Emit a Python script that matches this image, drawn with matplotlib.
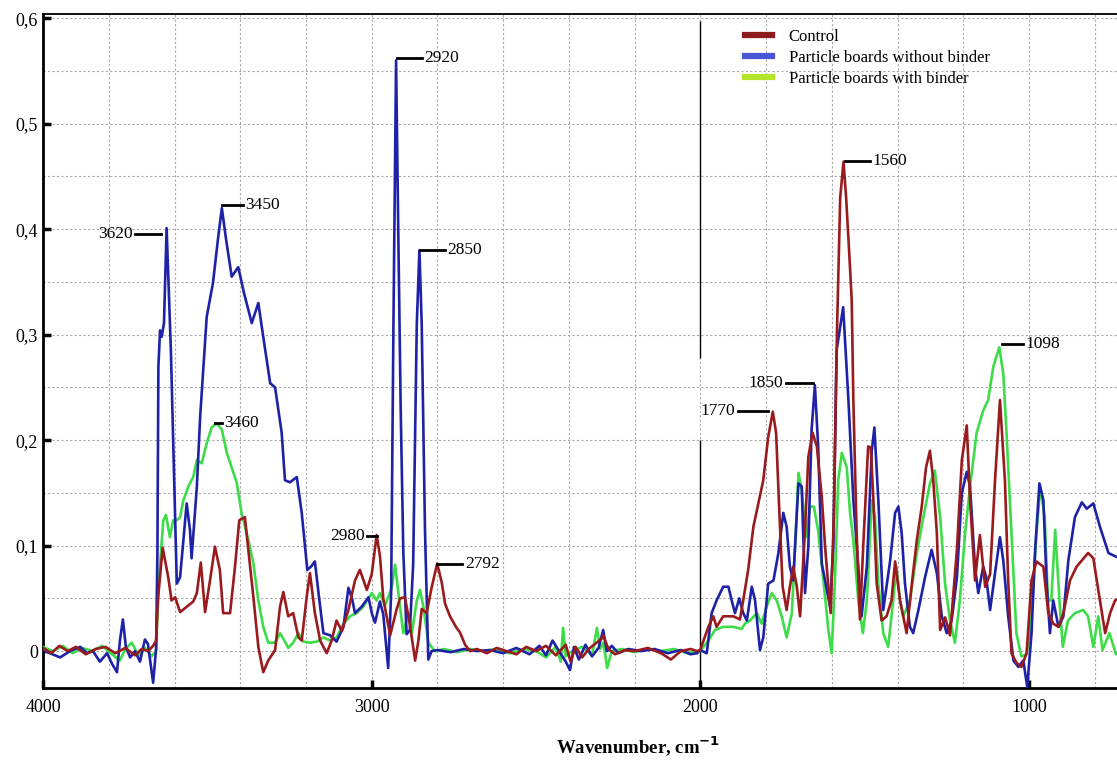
import matplotlib
matplotlib.use("Agg")
import matplotlib.pyplot as plt
from matplotlib.lines import Line2D
from matplotlib.ticker import MultipleLocator, FixedLocator, FuncFormatter

plt.rcParams['font.family'] = ['Liberation Serif', 'DejaVu Serif']

# FTIR spectra: wavenumber (cm-1) and absorbance
control_wn = [4000, 3975, 3950, 3925, 3900, 3870, 3840, 3810, 3780, 3750, 3720, 3700, 3680, 3665, 3656,
              3650, 3636, 3619, 3609, 3598, 3583, 3563, 3543, 3532, 3520, 3507, 3492, 3477, 3462, 3452,
              3431, 3416, 3403, 3386, 3360, 3345, 3330, 3315, 3294, 3279, 3269, 3254, 3239, 3223, 3213,
              3198, 3188, 3173, 3157, 3137, 3122, 3107, 3091, 3071, 3051, 3036, 3015, 3000, 2985, 2975,
              2965, 2944, 2924, 2914, 2899, 2884, 2868, 2858, 2848, 2833, 2818, 2801, 2787, 2777, 2762,
              2742, 2732, 2716, 2701, 2680, 2650, 2620, 2590, 2560, 2530, 2500, 2470, 2440, 2410, 2395,
              2380, 2360, 2340, 2300, 2296, 2280, 2260, 2230, 2200, 2160, 2120, 2090, 2060, 2030, 2010,
              2001, 1976, 1961, 1951, 1931, 1900, 1880, 1870, 1855, 1839, 1824, 1809, 1794, 1780, 1770,
              1760, 1750, 1738, 1728, 1718, 1707, 1697, 1682, 1672, 1659, 1646, 1631, 1621, 1611, 1604,
              1594, 1585, 1575, 1565, 1557, 1548, 1540, 1535, 1525, 1515, 1505, 1490, 1482, 1474, 1464,
              1449, 1434, 1419, 1408, 1393, 1373, 1357, 1342, 1327, 1314, 1302, 1292, 1281, 1271, 1256,
              1241, 1220, 1205, 1190, 1180, 1165, 1150, 1134, 1119, 1104, 1089, 1074, 1064, 1054, 1039,
              1024, 1008, 993, 978, 957, 942, 927, 911, 896, 876, 856, 821, 805, 790, 769, 754, 739, 724]
control_abs = [0.003, -0.002, 0.005, 0.0, 0.004, -0.003, 0.002, 0.004, -0.002, 0.003, -0.004, 0.002, 0.0, 0.005, 0.01,
               0.05, 0.098, 0.07, 0.048, 0.051, 0.037, 0.042, 0.047, 0.055, 0.084, 0.037, 0.067, 0.099, 0.077, 0.036,
               0.036, 0.08, 0.124, 0.127, 0.051, 0.004, -0.02, -0.009, 0.001, 0.042, 0.056, 0.033, 0.036, 0.013, 0.01,
               0.051, 0.074, 0.036, 0.01, -0.002, 0.01, 0.029, 0.019, 0.039, 0.067, 0.077, 0.058, 0.073, 0.11, 0.09,
               0.05, 0.015, 0.04, 0.05, 0.051, 0.025, -0.009, 0.01, 0.04, 0.036, 0.06, 0.083, 0.065, 0.045, 0.033,
               0.022, 0.018, 0.006, 0.0, 0.002, -0.002, 0.003, 0.0, -0.003, 0.004, 0.0, 0.005, -0.004, 0.006, -0.01,
               0.004, -0.006, 0.002, 0.012, 0.015, 0.002, -0.003, 0.001, 0.0, 0.003, -0.002, -0.008, 0.0, 0.002, 0.0,
               0.001, 0.023, 0.033, 0.023, 0.033, 0.033, 0.03, 0.048, 0.077, 0.118, 0.14, 0.162, 0.203, 0.227, 0.207,
               0.131, 0.061, 0.039, 0.061, 0.08, 0.061, 0.033, 0.115, 0.184, 0.207, 0.194, 0.146, 0.099, 0.061, 0.036,
               0.131, 0.3, 0.43, 0.464, 0.43, 0.38, 0.333, 0.238, 0.112, 0.03, 0.099, 0.194, 0.193, 0.143, 0.064,
               0.029, 0.033, 0.048, 0.085, 0.048, 0.017, 0.064, 0.105, 0.137, 0.174, 0.19, 0.162, 0.112, 0.02, 0.032,
               0.015, 0.096, 0.181, 0.214, 0.143, 0.067, 0.11, 0.061, 0.073, 0.162, 0.238, 0.162, 0.067, -0.002, -0.011,
               -0.015, -0.002, 0.067, 0.085, 0.08, 0.036, 0.026, 0.023, 0.036, 0.067, 0.08, 0.093, 0.088, 0.058, 0.017, 0.036, 0.048, 0.05]

nobinder_wn = [4000, 3979, 3948, 3918, 3887, 3866, 3848, 3827, 3805, 3790, 3775, 3766, 3757, 3748, 3735,
               3720, 3705, 3690, 3681, 3665, 3656, 3652, 3649, 3644, 3639, 3632, 3624, 3616, 3611, 3593,
               3583, 3563, 3553, 3548, 3532, 3522, 3502, 3483, 3468, 3456, 3443, 3426, 3406, 3389, 3365,
               3345, 3331, 3309, 3294, 3274, 3264, 3249, 3228, 3213, 3196, 3185, 3173, 3160, 3147, 3127,
               3107, 3086, 3071, 3060, 3051, 3031, 3010, 2999, 2990, 2975, 2965, 2950, 2941, 2934, 2926,
               2919, 2912, 2904, 2894, 2884, 2874, 2863, 2855, 2848, 2838, 2828, 2818, 2800, 2760, 2720,
               2680, 2640, 2600, 2560, 2520, 2490, 2470, 2450, 2430, 2410, 2397, 2385, 2370, 2350, 2330,
               2310, 2296, 2285, 2270, 2250, 2220, 2180, 2140, 2100, 2060, 2030, 2010,
               2001, 1981, 1966, 1951, 1931, 1915, 1905, 1895, 1882, 1870, 1859, 1844, 1834, 1819, 1809,
               1794, 1778, 1763, 1748, 1738, 1728, 1718, 1702, 1692, 1682, 1672, 1662, 1652, 1642, 1631,
               1621, 1606, 1596, 1586, 1566, 1550, 1535, 1520, 1510, 1494, 1479, 1471, 1459, 1444, 1423,
               1408, 1398, 1388, 1378, 1363, 1353, 1337, 1317, 1297, 1281, 1266, 1251, 1236, 1220, 1205,
               1190, 1180, 1165, 1155, 1140, 1131, 1119, 1104, 1089, 1079, 1064, 1048, 1033, 1018, 1006,
               993, 982, 969, 957, 947, 937, 927, 911, 896, 881, 861, 840, 825, 805, 785, 759, 739, 724]
nobinder_abs = [0.001, -0.002, -0.006, 0.0, 0.004, -0.002, 0.0, -0.01, -0.002, -0.012, -0.02, 0.01, 0.03, 0.004, -0.006,
                0.0, -0.01, 0.011, 0.007, -0.03, 0.002, 0.093, 0.27, 0.304, 0.298, 0.311, 0.401, 0.33, 0.285, 0.064,
                0.07, 0.14, 0.115, 0.088, 0.156, 0.222, 0.317, 0.349, 0.39, 0.42, 0.39, 0.355, 0.364, 0.34, 0.311,
                0.33, 0.3, 0.254, 0.25, 0.207, 0.162, 0.16, 0.165, 0.131, 0.077, 0.08, 0.085, 0.05, 0.017, 0.015,
                0.009, 0.023, 0.06, 0.05, 0.036, 0.042, 0.051, 0.035, 0.027, 0.047, 0.035, -0.016, 0.055, 0.31, 0.56,
                0.39, 0.231, 0.094, 0.016, 0.02, 0.082, 0.31, 0.38, 0.31, 0.114, -0.008, 0.0, 0.001, -0.001, 0.002,
                0.0, 0.001, -0.002, 0.003, -0.003, 0.005, -0.004, 0.01, 0.0, -0.01, -0.018, 0.004, -0.008, 0.006, -0.005,
                0.003, 0.02, 0.0, 0.005, -0.002, 0.002, 0.0, 0.002, -0.002, 0.001, -0.003, -0.002,
                0.001, -0.002, 0.036, 0.048, 0.061, 0.061, 0.048, 0.036, 0.05, 0.036, 0.029, 0.061, 0.048, 0.001, 0.013,
                0.064, 0.067, 0.093, 0.131, 0.118, 0.08, 0.067, 0.159, 0.156, 0.055, 0.099, 0.21, 0.252, 0.194, 0.083,
                0.067, 0.042, 0.099, 0.285, 0.326, 0.238, 0.143, 0.08, 0.033, 0.08, 0.19, 0.212, 0.143, 0.039, 0.086,
                0.131, 0.137, 0.112, 0.064, 0.023, 0.017, 0.039, 0.07, 0.096, 0.074, 0.033, 0.017, 0.029, 0.07, 0.15,
                0.17, 0.156, 0.08, 0.055, 0.08, 0.07, 0.039, 0.074, 0.108, 0.086, 0.033, -0.009, -0.015, -0.009, -0.034,
                0.017, 0.096, 0.159, 0.143, 0.064, 0.017, 0.048, 0.023, 0.033, 0.086, 0.127, 0.141, 0.135, 0.14, 0.118, 0.093, 0.09, 0.088]

binder_wn = [4000, 3970, 3940, 3910, 3880, 3850, 3820, 3790, 3766, 3750, 3730, 3710, 3690, 3670, 3656,
             3649, 3634, 3626, 3614, 3604, 3593, 3583, 3573, 3558, 3543, 3532, 3517, 3502, 3487, 3472,
             3456, 3441, 3426, 3411, 3396, 3375, 3360, 3345, 3330, 3315, 3294, 3279, 3264, 3254, 3239,
             3223, 3208, 3188, 3167, 3147, 3127, 3107, 3086, 3066, 3046, 3026, 3000, 2985, 2975, 2960,
             2939, 2929, 2914, 2904, 2889, 2878, 2863, 2853, 2843, 2828, 2808, 2780, 2740, 2700, 2660,
             2620, 2580, 2540, 2500, 2470, 2440, 2425, 2418, 2410, 2390, 2360, 2330, 2315, 2305, 2295,
             2284, 2270, 2240, 2200, 2160, 2120, 2080, 2040, 2010,
             2001, 1976, 1956, 1931, 1900, 1875, 1865, 1849, 1829, 1814, 1799, 1783, 1768, 1753, 1738,
             1722, 1712, 1702, 1692, 1679, 1667, 1655, 1642, 1626, 1611, 1601, 1591, 1581, 1570, 1555,
             1545, 1535, 1520, 1506, 1494, 1479, 1469, 1459, 1444, 1429, 1414, 1404, 1393, 1383, 1363,
             1342, 1322, 1302, 1287, 1271, 1256, 1241, 1226, 1211, 1195, 1180, 1160, 1140, 1125, 1109,
             1091, 1079, 1069, 1054, 1039, 1024, 1008, 993, 978, 966, 953, 943, 933, 921, 908,
             898, 882, 861, 836, 821, 805, 790, 777, 756, 736, 724]
binder_abs = [0.004, 0.0, 0.005, -0.002, 0.003, 0.0, 0.005, -0.003, -0.009, 0.002, 0.008, -0.004, 0.003, -0.005, 0.0,
              0.061, 0.124, 0.129, 0.108, 0.124, 0.124, 0.127, 0.143, 0.156, 0.165, 0.181, 0.178, 0.197, 0.212, 0.216,
              0.21, 0.188, 0.174, 0.16, 0.131, 0.105, 0.083, 0.048, 0.023, 0.008, 0.008, 0.017, 0.009, 0.003, 0.008,
              0.017, 0.009, 0.008, 0.009, 0.013, 0.01, 0.013, 0.026, 0.033, 0.036, 0.042, 0.055, 0.048, 0.055, 0.043,
              0.06, 0.082, 0.042, 0.017, 0.036, 0.017, 0.048, 0.058, 0.042, 0.008, 0.0, 0.002, -0.001, 0.002, 0.0,
              0.002, -0.002, 0.002, 0.0, -0.006, 0.004, -0.01, 0.022, -0.005, 0.0, 0.004, -0.004, 0.022, 0.002, 0.008,
              -0.016, 0.0, 0.002, -0.001, 0.002, 0.0, 0.002, -0.002, 0.0,
              0.0, 0.01, 0.02, 0.023, 0.023, 0.021, 0.026, 0.029, 0.036, 0.026, 0.042, 0.055, 0.048, 0.033, 0.013,
              0.036, 0.099, 0.169, 0.153, 0.108, 0.137, 0.137, 0.114, 0.067, 0.02, -0.002, 0.067, 0.162, 0.188, 0.174,
              0.131, 0.105, 0.048, 0.017, 0.048, 0.143, 0.127, 0.064, 0.017, 0.004, 0.048, 0.08, 0.048, 0.033, 0.048,
              0.093, 0.127, 0.159, 0.171, 0.127, 0.064, 0.029, 0.008, 0.048, 0.112, 0.156, 0.207, 0.228, 0.238, 0.27,
              0.288, 0.263, 0.207, 0.112, 0.017, -0.005, -0.003, 0.033, 0.112, 0.156, 0.127, 0.048, 0.048, 0.115, 0.048,
              0.004, 0.029, 0.036, 0.039, 0.033, 0.004, 0.033, 0.001, 0.017, -0.003, 0.0]

series_names = ["Control", "Particle boards without binder", "Particle boards with binder"]

# peak labels: text, leader line start/end (cm-1), height, text side
peak_labels = [("3620", 3719, 3640, 0.395, "left"), ("3450", 3455, 3392, 0.423, "right"),
               ("3460", 3477, 3456, 0.216, "right"), ("2920", 2923, 2847, 0.562, "right"),
               ("2850", 2853, 2777, 0.380, "right"), ("2980", 3014, 2984, 0.109, "left"),
               ("2792", 2801, 2725, 0.083, "right"), ("1770", 1886, 1795, 0.228, "left"),
               ("1850", 1740, 1658, 0.254, "left"), ("1560", 1560, 1484, 0.465, "right"),
               ("1098", 1083, 1019, 0.291, "right")]

red = "#9a1b1e"
blue = "#1e22a6"
green = "#3ddc48"

fig = plt.figure(figsize=(11.17, 7.61), dpi=100)
ax = fig.add_axes([0.0385, 0.0959, 0.9615, 0.8857])

ax.plot(binder_wn, binder_abs, color=green, lw=1.9, zorder=3)
ax.plot(nobinder_wn, nobinder_abs, color=blue, lw=1.9, zorder=4)
ax.plot(control_wn, control_abs, color=red, lw=1.9, zorder=5)

ax.set_xlim(4000, 733)
ax.set_ylim(-0.035, 0.604)

# black marker line at 2000 with a gap where the labels sit
ax.vlines(2000, -0.035, 0.2, color="black", lw=1.0, zorder=2)
ax.vlines(2000, 0.278, 0.597, color="black", lw=1.0, zorder=2)

for txt, x0, x1, y, side in peak_labels:
    ax.plot([x0, x1], [y, y], color="black", lw=2, zorder=6)
    if side == "right":
        ax.text(x1 - 8, y, txt, ha="left", va="center", fontsize=12.5, zorder=7)
    else:
        ax.text(x0 + 8, y, txt, ha="right", va="center", fontsize=12.5, zorder=7)

ax.xaxis.set_major_locator(FixedLocator([4000, 3000, 2000, 1000]))
ax.xaxis.set_minor_locator(MultipleLocator(200))
ax.yaxis.set_major_locator(MultipleLocator(0.1))
ax.yaxis.set_minor_locator(MultipleLocator(0.05))
ax.yaxis.set_major_formatter(FuncFormatter(lambda v, p: "0" if abs(v) < 1e-9 else f"{v:.1f}".replace(".", ",")))

ax.grid(which="both", color="#a8a8a8", linestyle=(0, (2, 2)), lw=0.8, zorder=0)
ax.tick_params(which="major", direction="in", length=6, width=2.5, labelsize=13)
ax.tick_params(which="minor", length=0)
ax.tick_params(axis="x", pad=8)

for s in ["left", "bottom"]:
    ax.spines[s].set_linewidth(2)
ax.spines["top"].set_linewidth(1.3)
ax.spines["right"].set_visible(False)

ax.set_xlabel("Wavenumber, cm$^{\\mathbf{-1}}$", fontsize=13.5, fontweight="bold")
ax.xaxis.set_label_coords(0.554, -0.069)

handles = [Line2D([], [], color="#8e1a1e", lw=4.5),
           Line2D([], [], color="#4a55d6", lw=4.5),
           Line2D([], [], color="#b2e52a", lw=4.5)]
leg = ax.legend(handles, series_names, loc="upper left", bbox_to_anchor=(0.643, 0.995), frameon=False,
                fontsize=12, handlelength=1.6, handletextpad=1.0, labelspacing=0.3, borderaxespad=0.3)
leg.set_zorder(8)

fig.savefig("out.png", dpi=100)
